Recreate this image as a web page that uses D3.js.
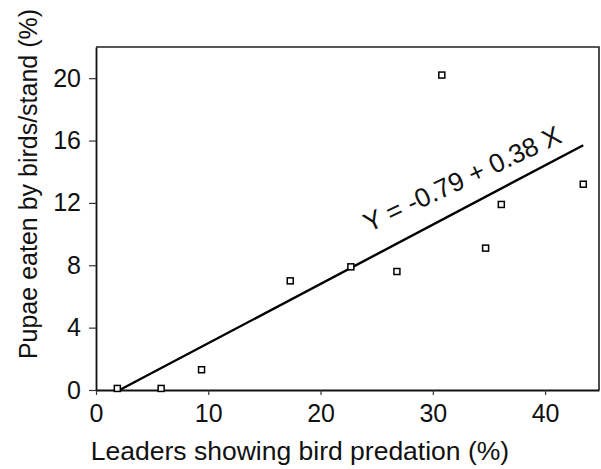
<!DOCTYPE html>
<html>
<head>
<meta charset="utf-8">
<script src="https://cdn.jsdelivr.net/npm/d3@7"></script>
<style>
  body { margin: 0; background: #fff; }
  text { font-family: "Liberation Sans", Arial, Helvetica, sans-serif; fill: #111; }
</style>
</head>
<body>
<script>
// leaders showing bird predation vs pupae eaten

var width = 601;
var height = 469;

var leaders = [1.9, 5.8, 9.4, 17.3, 22.7, 26.8, 30.8, 34.7, 36.1, 43.4];
var pupae = [0.1, 0.1, 1.3, 7.0, 7.9, 7.6, 20.2, 9.1, 11.9, 13.2];

// fitted line end points, Y = -0.79 + 0.38 X
var fitX = [2.1, 43.4];
var fitY = [0, 15.7];

var xTicks = [0, 10, 20, 30, 40];
var yTicks = [0, 4, 8, 12, 16, 20];

// note: "top" is taken by window.top
var plotLeft = 96, plotRight = 599, plotTop = 47, plotBottom = 390;

var svg = d3.select("body")
  .append("svg")
    .attr("width", width)
    .attr("height", height);

var x = d3.scaleLinear().domain([0, 44.8]).range([plotLeft, plotRight]);
var y = d3.scaleLinear().domain([0, 22]).range([plotBottom, plotTop]);

// frame top and right
svg.append("path")
  .attr("d", "M" + plotLeft + "," + plotTop + "H" + plotRight + "V" + plotBottom)
  .attr("fill", "none")
  .attr("stroke", "#222")
  .attr("stroke-width", 1.6);

var xAxis = svg.append("g")
  .attr("transform", "translate(0," + plotBottom + ")")
  .call(d3.axisBottom(x).tickValues(xTicks).tickSize(5).tickPadding(9).tickSizeOuter(0));

var yAxis = svg.append("g")
  .attr("transform", "translate(" + plotLeft + ",0)")
  .call(d3.axisLeft(y).tickValues(yTicks).tickSize(7).tickPadding(8).tickSizeOuter(0));

[xAxis, yAxis].forEach(function(g) {
  g.select(".domain").attr("stroke", "#111").attr("stroke-width", 1.8);
  g.selectAll(".tick line").attr("stroke", "#333").attr("stroke-width", 1.2);
  g.selectAll(".tick text")
    .style("font-size", "25px")
    .attr("fill", "#111");
});

// regression line
svg.append("line")
  .attr("x1", x(fitX[0]))
  .attr("y1", y(fitY[0]))
  .attr("x2", x(fitX[1]))
  .attr("y2", y(fitY[1]))
  .attr("stroke", "#000")
  .attr("stroke-width", 2.4);

// points
var pts = d3.zip(leaders, pupae);
svg.selectAll(".pt")
  .data(pts)
  .enter()
  .append("rect")
    .classed("pt", true)
    .attr("x", function(d) { return x(d[0]) - 3; })
    .attr("y", function(d) { return y(d[1]) - 3; })
    .attr("width", 6)
    .attr("height", 6)
    .attr("fill", "#fff")
    .attr("stroke", "#000")
    .attr("stroke-width", 1.5);

// equation
svg.append("text")
  .attr("transform", "translate(" + x(24.3) + "," + y(10.1) + ") rotate(-25)")
  .style("font-size", "26.5px")
  .text("Y = -0.79 + 0.38 X");

// axis titles
svg.append("text")
  .attr("x", 300)
  .attr("y", 460)
  .attr("text-anchor", "middle")
  .style("font-size", "26.5px")
  .text("Leaders showing bird predation (%)");

svg.append("text")
  .attr("transform", "translate(37,184) rotate(-90)")
  .attr("text-anchor", "middle")
  .style("font-size", "25px")
  .text("Pupae eaten by birds/stand (%)");
</script>
</body>
</html>
